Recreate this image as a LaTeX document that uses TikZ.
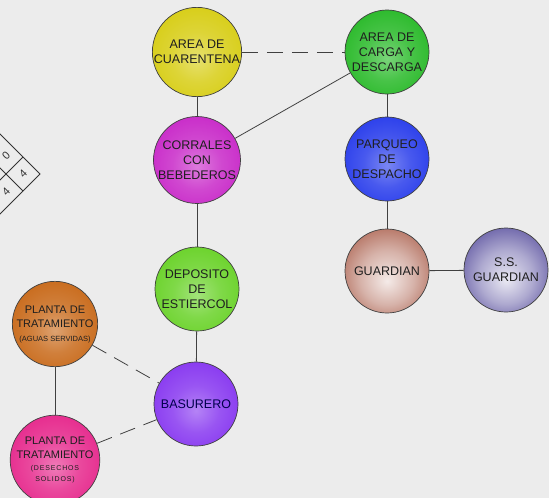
\documentclass[tikz,border=0pt]{standalone}
\usepackage{fontspec}
\setmainfont{Liberation Sans}
\colorlet{bc}{gray}
\pgfdeclareradialshading[bc]{myball}{\pgfpoint{0bp}{-4bp}}{color(0bp)=(bc!62!white); color(14bp)=(bc!85!white); color(30bp)=(bc); color(42bp)=(bc!88!black); color(50bp)=(bc!55!black)}
\pgfdeclareradialshading[bc]{myballw}{\pgfpoint{0bp}{-6bp}}{color(0bp)=(bc!12!white); color(16bp)=(bc!45!white); color(36bp)=(bc); color(50bp)=(bc!55!black)}
\definecolor{bgc}{RGB}{236,236,236}
\definecolor{cyel}{RGB}{215,205,20}
\definecolor{cgrn}{RGB}{40,185,40}
\definecolor{cmag}{RGB}{200,40,200}
\definecolor{cblu}{RGB}{40,60,235}
\definecolor{clgr}{RGB}{105,210,40}
\definecolor{cbrn}{RGB}{165,85,65}
\definecolor{cssg}{RGB}{75,65,150}
\definecolor{cvio}{RGB}{135,55,240}
\definecolor{cora}{RGB}{200,105,25}
\definecolor{cpnk}{RGB}{230,40,140}
\tikzset{
  circ/.style={circle, draw=black!75, line width=0.7pt, minimum size=84pt, inner sep=0pt,
    align=center, text=black!88, font=\fontsize{12.5}{15}\selectfont,
    /utils/exec={\colorlet{bc}{#1}}, shading=myball},
  circw/.style={circ=#1, shading=myballw},
  conn/.style={draw=black!75, line width=0.8pt},
  dconn/.style={conn, dash pattern=on 16pt off 9pt},
  tabline/.style={draw=black!80, line width=0.8pt},
  tabtxt/.style={font=\fontsize{11}{11}\selectfont, text=black!80, rotate=45, inner sep=0pt}
}
\begin{document}
\begin{tikzpicture}[x=1pt,y=-1pt]
\fill[bgc] (0,0) rectangle (549,498);
\useasboundingbox (0,0) rectangle (549,498);
% partial rotated table
\begin{scope}
\clip (0,0) rectangle (549,498);
\draw[tabline] (-17,117) -- (40,174) -- (-17,231);
\draw[tabline] (23,191) -- (-34,134);
\draw[tabline] (23,157) -- (-34,214);
\node[tabtxt] (t0) at (6,156) {0};
\node[tabtxt] (t1) at (23,174) {4};
\node[tabtxt] (t2) at (6,192) {4};
\end{scope}
% nodes
\node[circ=cyel] (cuar) at (197,52) {AREA DE\\CUARENTENA};
\node[circ=cgrn] (carga) at (387,52) {AREA DE\\CARGA Y\\DESCARGA};
\node[circ=cmag] (corr) at (197,160) {CORRALES\\CON\\BEBEDEROS};
\node[circ=cblu] (parq) at (387,159) {PARQUEO\\DE\\DESPACHO};
\node[circ=clgr] (depo) at (197,289) {DEPOSITO\\DE\\ESTIERCOL};
\node[circw=cbrn] (guard) at (387,271) {GUARDIAN};
\node[circw=cssg] (ssg) at (506,270) {S.S.\\GUARDIAN};
\node[circ=cvio, text=black!70!blue] (bas) at (196,404) {BASURERO};
\node[circ=cora, font=\fontsize{11}{14}\selectfont] (pagua) at (55,324)
  {PLANTA DE\\TRATAMIENTO\\{\fontsize{7.5}{9}\selectfont (AGUAS SERVIDAS)}};
\node[circ=cpnk, font=\fontsize{11}{14}\selectfont] (pdes) at (55,460)
  {PLANTA DE\\TRATAMIENTO\\[-2pt]{\fontsize{7}{10}\selectfont\addfontfeatures{LetterSpace=12}(DESECHOS}\\[-3pt]{\fontsize{7}{10}\selectfont\addfontfeatures{LetterSpace=12}SOLIDOS)}};
% connectors
\draw[dconn] (cuar) -- (carga);
\draw[conn] (cuar) -- (corr);
\draw[conn] (corr) -- (carga);
\draw[conn] (carga) -- (parq);
\draw[conn] (parq) -- (guard);
\draw[conn] (guard) -- (ssg);
\draw[conn] (corr) -- (depo);
\draw[conn] (depo) -- (bas);
\draw[dconn] (pagua) -- (bas);
\draw[conn] (pagua) -- (pdes);
\draw[dconn] (pdes) -- (bas);
\end{tikzpicture}
\end{document}
